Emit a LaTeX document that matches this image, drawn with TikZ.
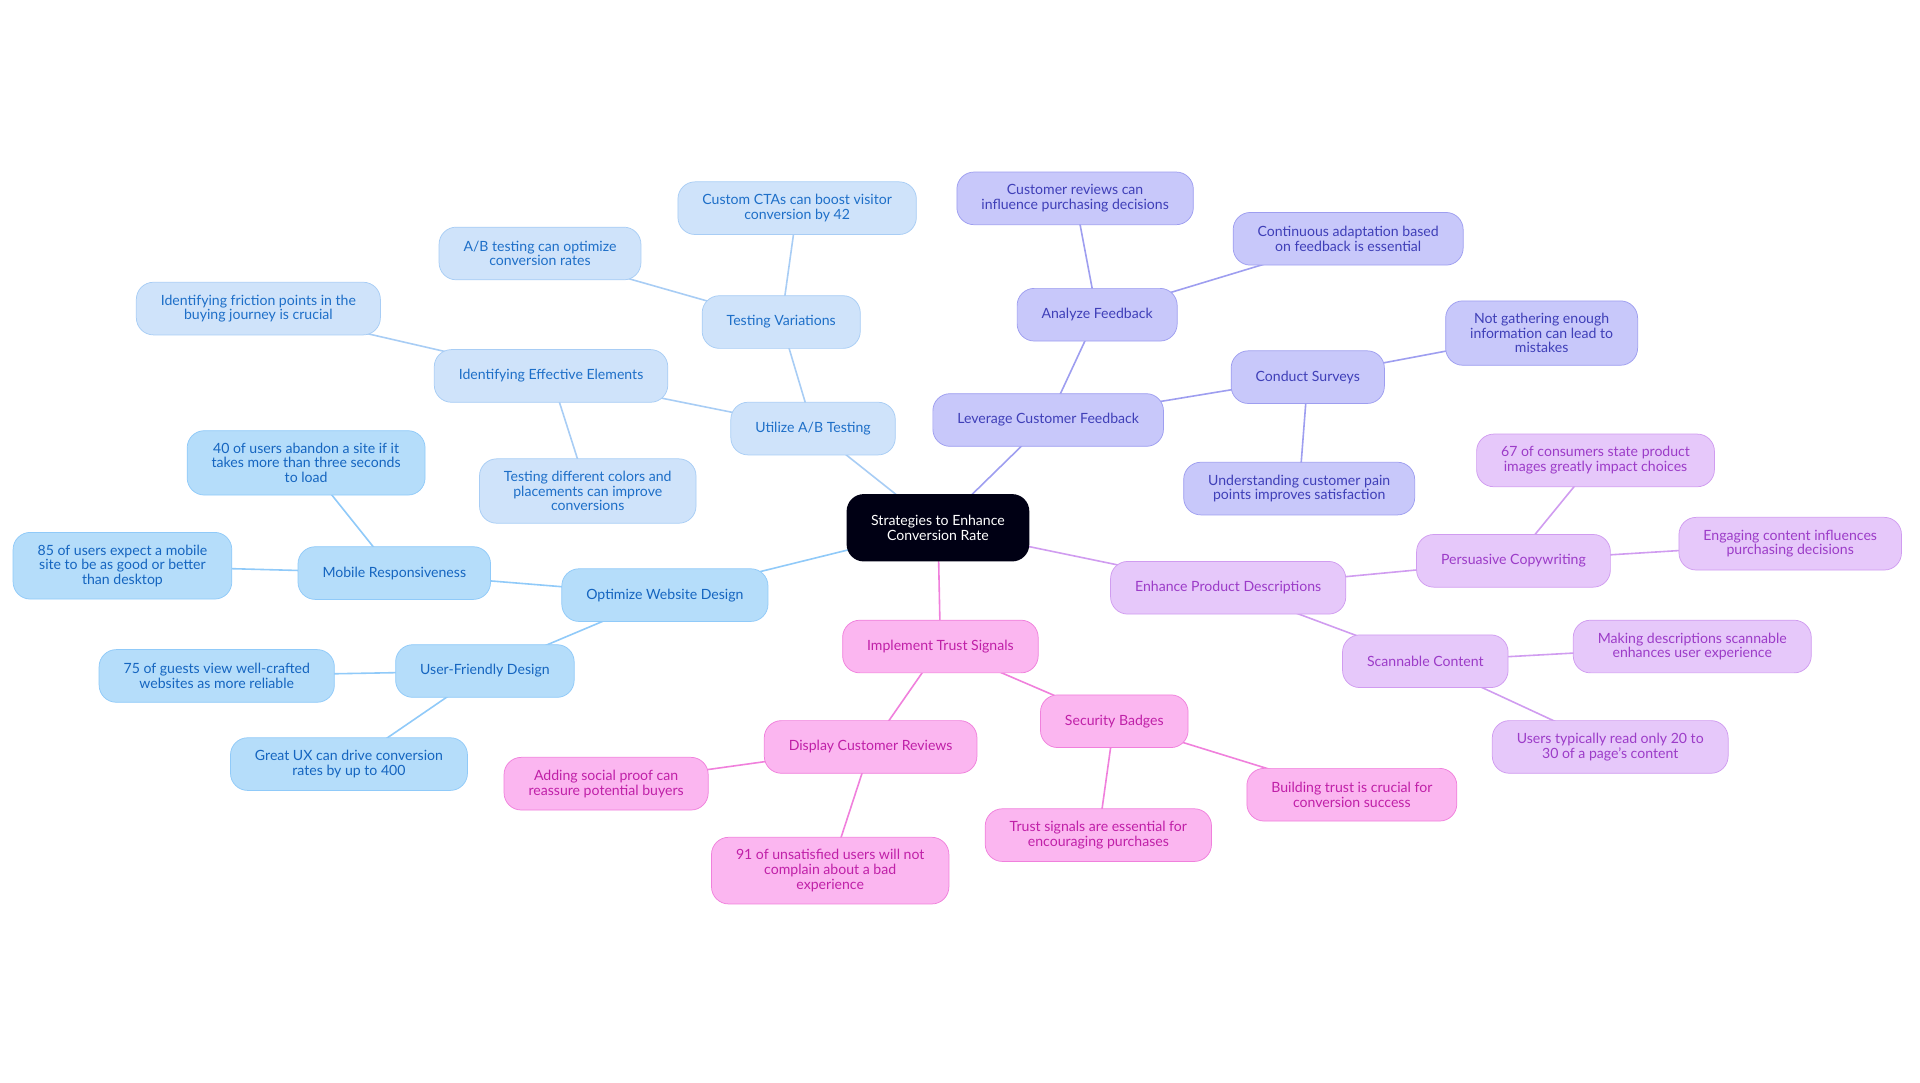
\documentclass[tikz,border=0pt]{standalone}
\usepackage{fontspec}
\setmainfont{Lato}
\usetikzlibrary{backgrounds}
\definecolor{bA}{HTML}{B5DDFA}\definecolor{bAt}{HTML}{1565C0}\definecolor{bAl}{HTML}{90CAF9}
\definecolor{bB}{HTML}{CFE3FA}\definecolor{bBt}{HTML}{1E6FC8}\definecolor{bBl}{HTML}{A8CDF5}
\definecolor{iC}{HTML}{C8C8FA}\definecolor{iCt}{HTML}{3F3FB8}\definecolor{iCl}{HTML}{9E9EF0}
\definecolor{lD}{HTML}{E6C8FA}\definecolor{lDt}{HTML}{9C3CC8}\definecolor{lDl}{HTML}{D09CF0}
\definecolor{pE}{HTML}{FBB6F0}\definecolor{pEt}{HTML}{C020A8}\definecolor{pEl}{HTML}{F080DC}
\tikzset{
 box/.style={rounded corners=14pt,align=center,font=\fontsize{11.5}{12}\selectfont,inner xsep=20pt,inner ysep=10pt,minimum height=43pt,draw,line width=0.6pt},
 ga/.style={box,fill=bA,text=bAt,draw=bAl},
 gb/.style={box,fill=bB,text=bBt,draw=bBl},
 gc/.style={box,fill=iC,text=iCt,draw=iCl},
 gd/.style={box,fill=lD,text=lDt,draw=lDl},
 ge/.style={box,fill=pE,text=pEt,draw=pEl},
 la/.style={draw=bAl,line width=1.3pt},lb/.style={draw=bBl,line width=1.3pt},
 lc/.style={draw=iCl,line width=1.3pt},ld/.style={draw=lDl,line width=1.3pt},le/.style={draw=pEl,line width=1.3pt}
}
\begin{document}
\begin{tikzpicture}[x=1pt,y=-1pt]
\useasboundingbox (0,0) rectangle (1568,884);
\node[box,fill=black!92!blue,text=white,draw=none,minimum height=55pt] (root) at (766,431) {Strategies to Enhance\\Conversion Rate};
\node[ga] (owd) at (543,486) {Optimize Website Design};
\node[ga] (mr) at (322,468) {Mobile Responsiveness};
\node[ga] (mr1) at (250,378) {40 of users abandon a site if it\\takes more than three seconds\\to load};
\node[ga] (mr2) at (100,462) {85 of users expect a mobile\\site to be as good or better\\than desktop};
\node[ga] (ufd) at (396,548) {User-Friendly Design};
\node[ga] (uf1) at (177,552) {75 of guests view well-crafted\\websites as more reliable};
\node[ga] (uf2) at (285,624) {Great UX can drive conversion\\rates by up to 400};
\node[gb] (ab) at (664,350) {Utilize A/B Testing};
\node[gb] (tv) at (638,263) {Testing Variations};
\node[gb] (tv1) at (651,170) {Custom CTAs can boost visitor\\conversion by 42};
\node[gb] (tv2) at (441,207) {A/B testing can optimize\\conversion rates};
\node[gb] (iee) at (450,307) {Identifying Effective Elements};
\node[gb] (ie1) at (211,252) {Identifying friction points in the\\buying journey is crucial};
\node[gb] (ie2) at (480,401) {Testing different colors and\\placements can improve\\conversions};
\node[gc] (lcf) at (856,343) {Leverage Customer Feedback};
\node[gc] (af) at (896,257) {Analyze Feedback};
\node[gc] (af1) at (878,162) {Customer reviews can\\influence purchasing decisions};
\node[gc] (af2) at (1101,195) {Continuous adaptation based\\on feedback is essential};
\node[gc] (cs) at (1068,308) {Conduct Surveys};
\node[gc] (cs1) at (1259,272) {Not gathering enough\\information can lead to\\mistakes};
\node[gc] (cs2) at (1061,399) {Understanding customer pain\\points improves satisfaction};
\node[gd] (epd) at (1003,480) {Enhance Product Descriptions};
\node[gd] (pc) at (1236,458) {Persuasive Copywriting};
\node[gd] (pc1) at (1303,376) {67 of consumers state product\\images greatly impact choices};
\node[gd] (pc2) at (1462,444) {Engaging content influences\\purchasing decisions};
\node[gd] (sc) at (1164,540) {Scannable Content};
\node[gd] (sc1) at (1382,528) {Making descriptions scannable\\enhances user experience};
\node[gd] (sc2) at (1315,610) {Users typically read only 20 to\\30 of a page's content};
\node[ge] (its) at (768,528) {Implement Trust Signals};
\node[ge] (dcr) at (711,610) {Display Customer Reviews};
\node[ge] (dc1) at (495,640) {Adding social proof can\\reassure potential buyers};
\node[ge] (dc2) at (678,711) {91 of unsatisfied users will not\\complain about a bad\\experience};
\node[ge] (sb) at (910,589) {Security Badges};
\node[ge] (sb1) at (1104,649) {Building trust is crucial for\\conversion success};
\node[ge] (sb2) at (897,682) {Trust signals are essential for\\encouraging purchases};
\begin{scope}[on background layer]
\fill[white] (0,0) rectangle (1568,884);
\foreach \a/\b in {root/owd,owd/mr,mr/mr1,mr/mr2,owd/ufd,ufd/uf1,ufd/uf2} \draw[la] (\a.center)--(\b.center);
\foreach \a/\b in {root/ab,ab/tv,tv/tv1,tv/tv2,ab/iee,iee/ie1,iee/ie2} \draw[lb] (\a.center)--(\b.center);
\foreach \a/\b in {root/lcf,lcf/af,af/af1,af/af2,lcf/cs,cs/cs1,cs/cs2} \draw[lc] (\a.center)--(\b.center);
\foreach \a/\b in {root/epd,epd/pc,pc/pc1,pc/pc2,epd/sc,sc/sc1,sc/sc2} \draw[ld] (\a.center)--(\b.center);
\foreach \a/\b in {root/its,its/dcr,dcr/dc1,dcr/dc2,its/sb,sb/sb1,sb/sb2} \draw[le] (\a.center)--(\b.center);
\end{scope}
\end{tikzpicture}
\end{document}
